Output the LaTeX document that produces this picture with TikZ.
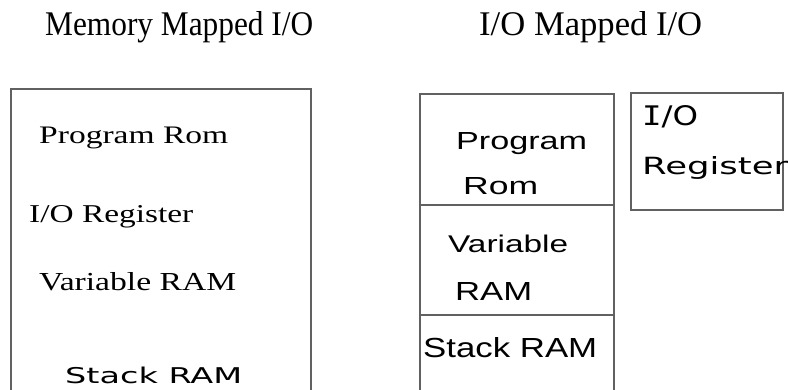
\documentclass[tikz,border=0pt]{standalone}
\usepackage{fontspec}
\setmainfont{Liberation Serif}
\newfontfamily\arialf{Liberation Sans}
\newfontfamily\verdf{DejaVu Sans}
\newfontfamily\monof{DejaVu Sans Mono}
\newcommand\mytxt[3]{\resizebox{#1pt}{#2pt}{#3}}
\begin{document}
\begin{tikzpicture}[x=1pt,y=1pt,
  box/.style={draw=black!62, line width=1.2pt, inner sep=0, outer sep=0, anchor=north west},
  lbl/.style={inner sep=0, anchor=base west}]
\useasboundingbox (0,0) rectangle (788,389);
\clip (0,0) rectangle (788,389);
% titles
\node[lbl] (t1) at (45,353) {\mytxt{268}{24}{Memory Mapped I/O}};
\node[lbl] (t2) at (479,353) {\mytxt{223}{24}{I/O Mapped I/O}};
% memory mapped box
\node[box, minimum width=300, minimum height=320] (mem) at (11,300) {};
\node[lbl] (m1) at (39,246) {\mytxt{189}{16.5}{Program Rom}};
\node[lbl] (m2) at (29,167) {\mytxt{164}{17}{I/O Register}};
\node[lbl] (m3) at (39,99) {\mytxt{197}{18}{Variable RAM}};
\node[lbl] (m4) at (65,6) {\mytxt{177}{16.5}{\verdf Stack RAM}};
% I/O mapped column
\node[box, minimum width=194, minimum height=111] (prog) at (420,295) {};
\node[box, minimum width=194, minimum height=110] (var) at (prog.south west) {};
\node[box, minimum width=194, minimum height=120] (stack) at (var.south west) {};
\node[lbl] (p1) at (456,239.5) {\mytxt{131}{17}{\arialf Program}};
\node[lbl] (p2) at (463,194) {\mytxt{75}{17}{\arialf Rom}};
\node[lbl] (v1) at (448,137) {\mytxt{120}{17.5}{\arialf Variable}};
\node[lbl] (v2) at (455,88.5) {\mytxt{77}{18}{\arialf RAM}};
\node[lbl] (s1) at (423,32) {\mytxt{174}{20}{\arialf Stack RAM}};
% I/O register box
\node[box, minimum width=152, minimum height=117] (reg) at (631,296) {};
\node[lbl] (r1) at (642,264) {\mytxt{56}{20}{\verdf{\monof I}/O}};
\node[lbl] (r2) at (642,214) {\mytxt{146}{18}{\verdf Register}};
\end{tikzpicture}
\end{document}
